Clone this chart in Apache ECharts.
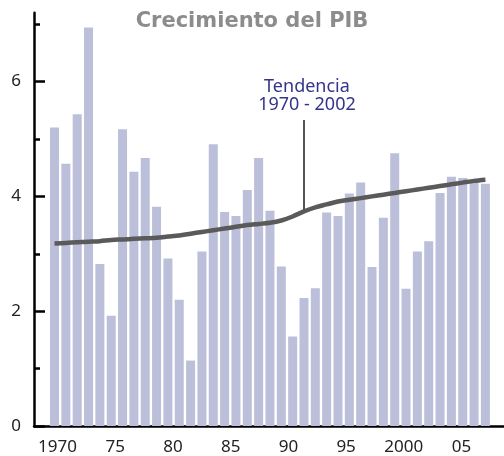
<!DOCTYPE html>
<html>
<head>
<meta charset="utf-8">
<script src="https://cdn.jsdelivr.net/npm/echarts@6/dist/echarts.min.js"></script>
<style>
  html, body { margin: 0; padding: 0; background: #fff; }
  #chart { width: 504px; height: 456px; }
</style>
</head>
<body>
<div id="chart"></div>
<script>
  const years = [];
  for (let y = 1970; y <= 2008; y++) years.push(y);
  const growth = [
    5.20, 4.57, 5.43, 6.94, 2.82, 1.92, 5.17, 4.43, 4.67, 3.82,
    2.92, 2.20, 1.14, 3.04, 4.91, 3.73, 3.66, 4.11, 4.67, 3.75,
    2.78, 1.56, 2.23, 2.40, 3.72, 3.66, 4.05, 4.24, 2.77, 3.63,
    4.75, 2.39, 3.04, 3.22, 4.06, 4.34, 4.32, 4.24, 4.22,
  ];
  const trend = [
    3.18, 3.19, 3.20, 3.21, 3.22, 3.24, 3.25, 3.26, 3.27, 3.28,
    3.30, 3.32, 3.35, 3.38, 3.41, 3.44, 3.47, 3.50, 3.52, 3.54,
    3.58, 3.65, 3.74, 3.81, 3.86, 3.91, 3.94, 3.97, 4.00, 4.03,
    4.06, 4.09, 4.12, 4.15, 4.18, 4.21, 4.24, 4.27, 4.29,
  ];
  const xTickYears = [1970, 1975, 1980, 1985, 1990, 1995, 2000, 2005];
  const xTickLabels = ["1970", "75", "80", "85", "90", "95", "2000", "05"];
  const yMajorTicks = [0, 2, 4, 6];
  const yMinorTicks = [1, 3, 5, 7];
  // nota de la tendencia
  const noteYear = 1992;
  const noteTop = 5.33;
  const noteText = "Tendencia\n1970 - 2002";

  const chart = echarts.init(document.getElementById("chart"), null, { renderer: "canvas" });

  const labelFont = { fontFamily: "Noto Sans", fontSize: 17, color: "#222" };

  const option = {
    animation: false,
    title: {
      text: "Crecimiento del PIB",
      left: "center",
      top: 11,
      padding: 0,
      textStyle: {
        fontFamily: "DejaVu Sans",
        fontWeight: "bold",
        fontSize: 21,
        color: "#8c8c8c",
      },
    },
    grid: { left: 34, right: 0, top: 12.7, bottom: 25.5, containLabel: false },
    xAxis: [
      {
        type: "value",
        min: 1968.19,
        max: 2009.64,
        position: "bottom",
        axisLine: { show: true, lineStyle: { color: "#000", width: 2.5 } },
        axisTick: { show: false },
        axisLabel: { show: false },
        splitLine: { show: false },
      },
      {
        // eje solo para las etiquetas de los años
        type: "value",
        min: 1967.96,
        max: 2008.68,
        position: "bottom",
        axisLine: { show: false },
        axisTick: { show: false },
        splitLine: { show: false },
        axisLabel: {
          ...labelFont,
          margin: 13,
          customValues: xTickYears,
          formatter: v => xTickLabels[xTickYears.indexOf(Math.round(v))] ?? "",
        },
      },
    ],
    yAxis: [
      {
        type: "value",
        min: 0,
        max: 7.2,
        position: "left",
        axisLine: { show: true, lineStyle: { color: "#000", width: 2.5 } },
        axisTick: {
          show: true,
          inside: true,
          length: 11,
          customValues: yMajorTicks,
          lineStyle: { color: "#000", width: 2.5 },
        },
        axisLabel: {
          ...labelFont,
          margin: 13,
          customValues: yMajorTicks,
        },
        splitLine: { show: false },
      },
      {
        type: "value",
        min: 0,
        max: 7.2,
        position: "left",
        axisLine: { show: false },
        axisTick: {
          show: true,
          inside: true,
          length: 6,
          customValues: yMinorTicks,
          lineStyle: { color: "#000", width: 2.5 },
        },
        axisLabel: { show: false },
        splitLine: { show: false },
      },
    ],
    series: [
      {
        name: "PIB",
        type: "bar",
        xAxisIndex: 0,
        yAxisIndex: 0,
        barWidth: 9,
        itemStyle: { color: "#bcbfd9" },
        data: years.map((y, i) => [y, growth[i]]),
      },
      {
        name: "Tendencia",
        type: "line",
        xAxisIndex: 0,
        yAxisIndex: 0,
        symbol: "none",
        smooth: 0.3,
        lineStyle: { color: "#5a5a5a", width: 4.5 },
        data: years.map((y, i) => [y, trend[i]]),
        markLine: {
          silent: true,
          symbol: "none",
          lineStyle: { color: "#555", width: 2, type: "solid" },
          label: {
            show: true,
            position: "end",
            distance: 6,
            offset: [3, 0],
            formatter: noteText,
            fontFamily: "Noto Sans",
            fontSize: 18,
            lineHeight: 18,
            color: "#34348a",
            align: "center",
          },
          data: [
            [
              { coord: [noteYear, trend[years.indexOf(noteYear)]] },
              { coord: [noteYear, noteTop] },
            ],
          ],
        },
      },
    ],
  };

  chart.setOption(option);
</script>
</body>
</html>
